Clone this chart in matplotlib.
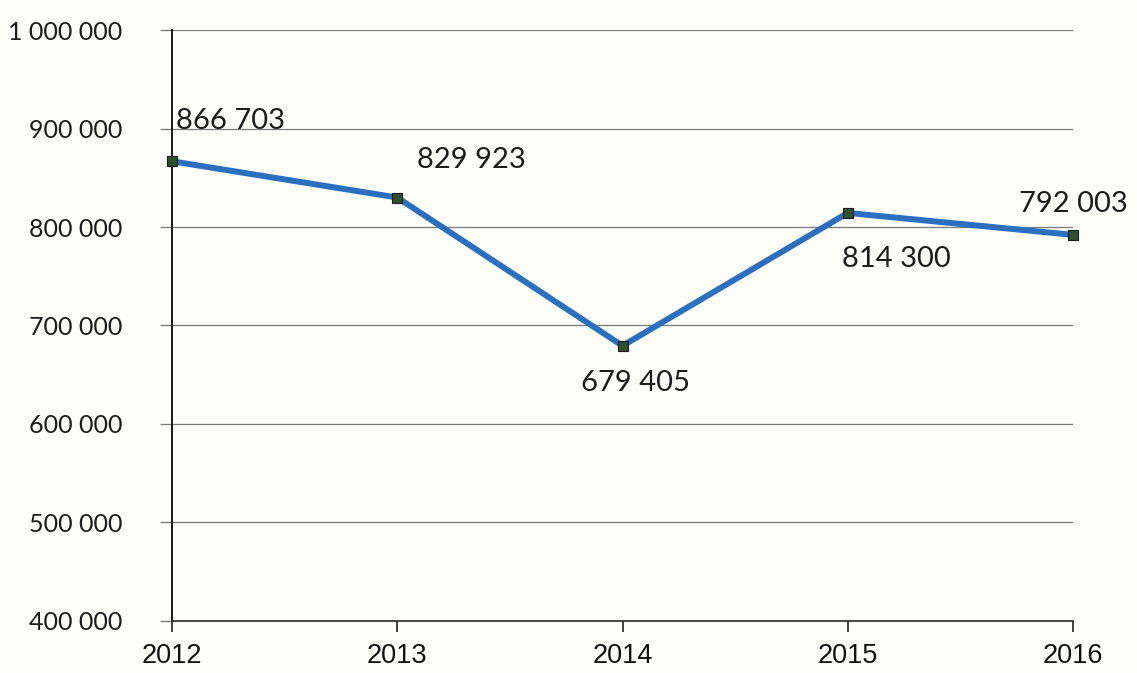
import matplotlib.pyplot as plt
from matplotlib.ticker import FuncFormatter

years = ["2012", "2013", "2014", "2015", "2016"]
values = [866703, 829923, 679405, 814300, 792003]
labels = ["866 703", "829 923", "679 405", "814 300", "792 003"]
# label offsets in points relative to each marker, and horizontal alignment
offsets = [(3, 29), (14, 27), (9, -27), (-4, -33), (0, 22)]
aligns = ["left", "left", "center", "left", "center"]
y_ticks = [400000, 500000, 600000, 700000, 800000, 900000, 1000000]

fig = plt.figure(figsize=(11.37, 6.73), dpi=100)
fig.patch.set_facecolor("#fdfdfa")
ax = fig.add_axes([0.1513, 0.0773, 0.7924, 0.8781])
ax.set_facecolor("#fdfdfa")

x = list(range(len(years)))
ax.plot(x, values, color="#2a70bf", lw=4.3, solid_joinstyle="miter", zorder=3, clip_on=False)
ax.plot(x, values, ls="none", marker="s", ms=7, mfc="#2f4f32", mec="#1a1a1a", mew=0.8,
        zorder=4, clip_on=False)

for xi, v, lab, off, ha in zip(x, values, labels, offsets, aligns):
    ax.annotate(lab, (xi, v), xytext=off, textcoords="offset points",
                ha=ha, va="center", fontsize=21, family="Lato", color="#1c1c1c")

ax.set_xlim(0, len(years) - 1)
ax.set_ylim(400000, 1000000)
ax.set_xticks(x)
ax.set_xticklabels(years, family=["Liberation Sans Narrow", "Liberation Sans"],
                   fontsize=19.5, color="#111111")
ax.set_yticks(y_ticks)
ax.yaxis.set_major_formatter(FuncFormatter(lambda v, p: f"{int(v):,}".replace(",", " ")))
for t in ax.get_yticklabels():
    t.set_family("Lato")
    t.set_fontsize(18)
    t.set_color("#1c1c1c")

ax.grid(axis="y", color="#7a7a7a", lw=0.9)
ax.tick_params(axis="y", length=9, width=0.9, color="#7a7a7a", pad=27)
ax.tick_params(axis="x", length=8, width=1.2, color="#222222", pad=8)

for s in ["top", "right"]:
    ax.spines[s].set_visible(False)
ax.spines["left"].set_color("#1a1a1a")
ax.spines["left"].set_linewidth(1.4)
ax.spines["bottom"].set_color("#2a2a2a")
ax.spines["bottom"].set_linewidth(1.2)

fig.savefig("out.png", dpi=100, facecolor=fig.get_facecolor())
